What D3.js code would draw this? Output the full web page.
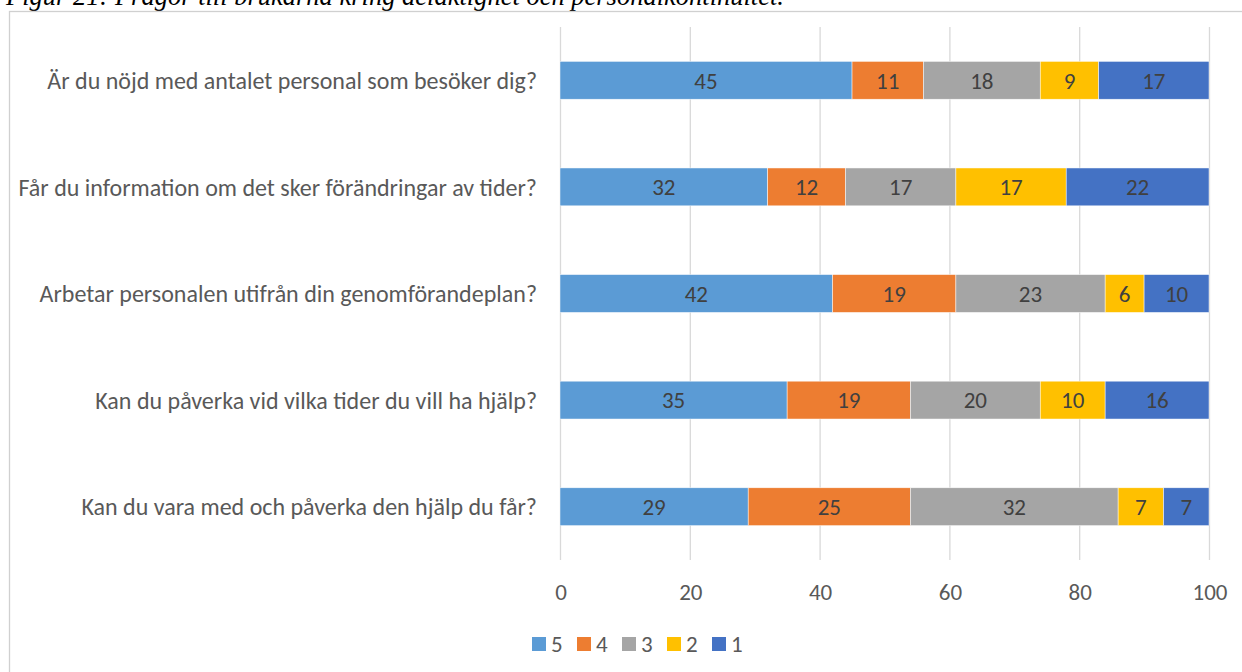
<!DOCTYPE html>
<html lang="sv">
<head>
  <meta charset="utf-8" />
  <title>Figur 21</title>
  <script src="https://cdn.jsdelivr.net/npm/d3@7"></script>
  <style>
    html, body { margin:0; padding:0; background:#fff; overflow:hidden; }
    svg text { font-family: Carlito, Calibri, Lato, sans-serif; }
    .caption { font-family: "Liberation Serif", "Times New Roman", serif !important; font-style:italic; }
  </style>
</head>
<body>
<div id="chart"></div>
<script>
// ---- data -----------------------------------------------------------------
const questions = [
  "Är du nöjd med antalet personal som besöker dig?",
  "Får du information om det sker förändringar av tider?",
  "Arbetar personalen utifrån din genomförandeplan?",
  "Kan du påverka vid vilka tider du vill ha hjälp?",
  "Kan du vara med och påverka den hjälp du får?"
];
const seriesNames = ["5", "4", "3", "2", "1"];
const seriesColors = ["#5B9BD5", "#ED7D31", "#A5A5A5", "#FFC000", "#4472C4"];
const s5 = [45, 32, 42, 35, 29];
const s4 = [11, 12, 19, 19, 25];
const s3 = [18, 17, 23, 20, 32];
const s2 = [9, 17, 6, 10, 7];
const s1 = [17, 22, 10, 16, 7];
const xTicks = [0, 20, 40, 60, 80, 100];
const captionText = "Figur 21: Frågor till brukarna kring delaktighet och personalkontinuitet.";

// ---- layout ---------------------------------------------------------------
const W = 1242, H = 672;
const svg = d3.select("#chart").append("svg").attr("width", W).attr("height", H);

// caption (cut off at the top like the source)
svg.append("text").attr("class", "caption")
  .attr("x", 6).attr("y", 5)
  .attr("font-size", 26.5).attr("fill", "#000")
  .text(captionText);

// chart frame
svg.append("rect")
  .attr("x", 9.5).attr("y", 11.5).attr("width", 1260).attr("height", 700)
  .attr("fill", "none").attr("stroke", "#D0D0D0").attr("stroke-width", 1.3);

const x = d3.scaleLinear().domain([0, 100]).range([560, 1209]);
const y = d3.scaleBand().domain(questions).range([27, 560])
  .paddingInner(0.645).paddingOuter(0.3225);

// gridlines
svg.append("g").selectAll("line").data(xTicks).join("line")
  .attr("x1", d => x(d) + 0.5).attr("x2", d => x(d) + 0.5)
  .attr("y1", 27).attr("y2", 560)
  .attr("stroke", "#D9D9D9").attr("stroke-width", 1.3);

// stacked bars
const rows = questions.map((q, i) => ({ q, "5": s5[i], "4": s4[i], "3": s3[i], "2": s2[i], "1": s1[i] }));
const stacked = d3.stack().keys(seriesNames)(rows);
const color = d3.scaleOrdinal().domain(seriesNames).range(seriesColors);

const layers = svg.append("g").selectAll("g").data(stacked).join("g")
  .attr("fill", d => color(d.key));

layers.selectAll("rect").data(d => d).join("rect")
  .attr("x", d => x(d[0]))
  .attr("width", d => x(d[1]) - x(d[0]))
  .attr("y", d => y(d.data.q))
  .attr("height", y.bandwidth())
  .attr("stroke", "#fff").attr("stroke-width", 0.6).attr("stroke-opacity", 0.8);

layers.selectAll("text").data(d => d).join("text")
  .attr("x", d => (x(d[0]) + x(d[1])) / 2)
  .attr("y", d => y(d.data.q) + y.bandwidth() / 2)
  .attr("dy", "0.36em")
  .attr("text-anchor", "middle")
  .attr("font-size", 23).attr("fill", "#404040")
  .text(d => d[1] - d[0]);

// category labels
svg.append("g").selectAll("text").data(questions).join("text")
  .attr("x", 537)
  .attr("y", d => y(d) + y.bandwidth() / 2)
  .attr("dy", "0.36em")
  .attr("text-anchor", "end")
  .attr("font-size", 24).attr("fill", "#595959")
  .text(d => d);

// x axis labels
const xAxis = d3.axisBottom(x).tickValues(xTicks).tickSize(0).tickPadding(0);
const ax = svg.append("g").attr("transform", "translate(0.5,592)").call(xAxis);
ax.select(".domain").remove();
ax.selectAll("text").attr("font-size", 23).attr("fill", "#595959")
  .attr("dy", "0.36em").attr("y", 0);

// legend
const legX = [532, 577, 622, 667, 712];
const leg = svg.append("g").selectAll("g").data(seriesNames).join("g")
  .attr("transform", (d, i) => `translate(${legX[i]},644)`);
leg.append("rect").attr("x", 0).attr("y", -7).attr("width", 14).attr("height", 14)
  .attr("fill", d => color(d));
leg.append("text").attr("x", 19).attr("dy", "0.36em")
  .attr("font-size", 23).attr("fill", "#595959").text(d => d);
</script>
</body>
</html>
